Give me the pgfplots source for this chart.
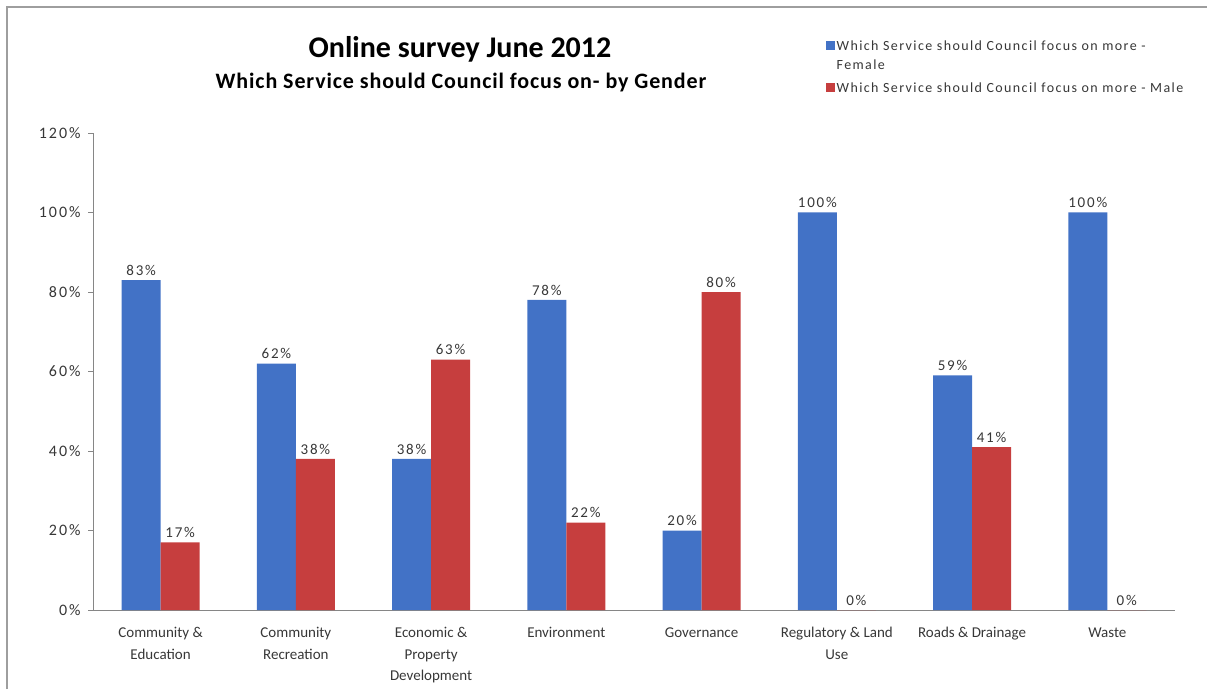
\documentclass[border=0pt]{standalone}
\usepackage{pgfplots}
\pgfplotsset{compat=1.18}
\usepackage{fontspec}
\setmainfont{Carlito}
\newfontfamily\spfont{Carlito}[LetterSpace=12]
\newfontfamily\lgfont{Carlito}[LetterSpace=10]
\newfontfamily\subfont{Carlito}[LetterSpace=4]
\definecolor{barblue}{RGB}{66,114,198}
\definecolor{barred}{RGB}{198,62,62}
\definecolor{axgray}{RGB}{134,134,134}
\definecolor{txtgray}{RGB}{55,55,55}
\pgfplotsset{upperimg/.style={legend image code/.code={\fill[##1] (0pt,6.2pt) rectangle (9pt,14.7pt);}}}
\begin{document}
\begin{tikzpicture}
\useasboundingbox (0pt,0pt) rectangle (1207pt,689pt);
\draw[color=axgray!80, line width=1.2pt] (7pt,0pt) -- (7pt,682pt) -- (1207pt,682pt);
\node[font=\fontsize{30}{34}\selectfont\bfseries] at (460pt,640pt) {Online survey June 2012};
\node[font=\subfont\fontsize{22}{26}\selectfont\bfseries] at (461pt,606pt) {Which Service should Council focus on- by Gender};
\begin{axis}[
  at={(93pt,79pt)}, anchor=south west,
  scale only axis, width=1082pt, height=477pt,
  ybar=0pt, bar width=39pt,
  xmin=-0.5, xmax=7.5, ymin=0, ymax=120,
  ytick={0,20,...,120},
  yticklabel={\pgfmathprintnumber{\tick}\%},
  /pgf/number format/assume math mode=true,
  yticklabel style={font=\spfont\fontsize{16}{18}\selectfont, text=txtgray, xshift=-4pt},
  xtick={0,...,7},
  xticklabels={{Community \&\\Education},{Community\\Recreation},{Economic \&\\Property\\Development},{Environment},{Governance},{Regulatory \& Land\\Use},{Roads \& Drainage},{Waste}},
  xticklabel style={font=\fontsize{15}{21.5}\selectfont, text=txtgray, align=center, yshift=-9pt},
  major x tick style={draw=none},
  extra x ticks={0.5,1.5,...,6.5},
  extra x tick labels={},
  extra x tick style={major tick length=5pt, tick style={draw=axgray}, tick align=outside},
  major tick length=5pt,
  ytick style={draw=axgray},
  tick align=outside,
  axis x line*=bottom, axis y line*=left,
  x axis line style={draw=axgray, -},
  y axis line style={draw=axgray, -},
  nodes near coords={\pgfmathprintnumber{\pgfplotspointmeta}\%},
  nodes near coords style={font=\spfont\fontsize{15}{17}\selectfont, text=txtgray, /pgf/number format/assume math mode=true, yshift=1pt},
  legend style={at={(0.677,1.197)}, anchor=north west, draw=none, fill=none,
    font=\lgfont\fontsize{14}{18.5}\selectfont, text=txtgray, cells={anchor=west, align=left},
    row sep=8pt, inner sep=0pt},
  legend image code/.code={\fill[#1] (0pt,-3pt) rectangle (9pt,5.5pt);},
  clip=false,
]
\addplot[fill=barblue, draw=none, upperimg] coordinates {(0,83) (1,62) (2,38) (3,78) (4,20) (5,100) (6,59) (7,100)};
\addlegendentry{Which Service should Council focus on more -\\Female}
\addplot[fill=barred, draw=none] coordinates {(0,17) (1,38) (2,63) (3,22) (4,80) (5,0) (6,41) (7,0)};
\addlegendentry{Which Service should Council focus on more - Male}
\end{axis}
\end{tikzpicture}
\end{document}
